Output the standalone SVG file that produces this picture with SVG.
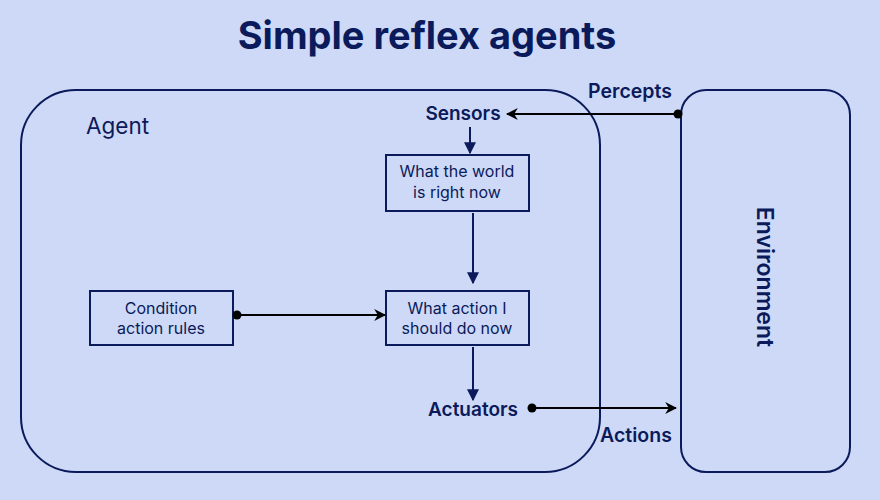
<svg xmlns="http://www.w3.org/2000/svg" width="880" height="500" viewBox="0 0 880 500">
<defs>
<style>
.t{font-family:"Inter","Liberation Sans",sans-serif;fill:#0b1a5a}
.box{fill:none;stroke:#0b1a5a;stroke-width:2}
.ln{stroke:#000;stroke-width:2;fill:none}
.nl{stroke:#0b1a5a;stroke-width:2;fill:none}
.s{font-size:16px;text-anchor:middle}
.b{font-size:19px;font-weight:600;text-anchor:middle}
</style>
<marker id="ah" viewBox="0 0 10 10" refX="9" refY="5" markerWidth="6" markerHeight="6" orient="auto-start-reverse" markerUnits="strokeWidth">
<path d="M0,0 L10,5 L0,10 L3,5 z" fill="#000"/>
</marker>
<marker id="ahn" viewBox="0 0 10 10" refX="9" refY="5" markerWidth="6" markerHeight="6" orient="auto" markerUnits="strokeWidth">
<path d="M0,0 L10,5 L0,10 z" fill="#0b1a5a"/>
</marker>
</defs>
<rect width="880" height="500" fill="#cdd9f6"/>
<text class="t" x="427" y="49" font-size="38" font-weight="700" text-anchor="middle">Simple reflex agents</text>
<g id="agent">
<rect class="box" x="21" y="90" width="579" height="382" rx="55"/>
<text class="t" x="86" y="134" font-size="22.5">Agent</text>
</g>
<g id="environment">
<rect class="box" x="681" y="90" width="169" height="382" rx="25"/>
<text class="t" transform="translate(757,277) rotate(90)" font-size="23" font-weight="600" text-anchor="middle">Environment</text>
</g>
<g id="sensors"><text class="t b" x="463" y="120">Sensors</text></g>
<g id="world">
<rect class="box" x="386" y="155" width="143" height="56"/>
<text class="t s" x="457" y="177">What the world</text>
<text class="t s" x="457" y="198">is right now</text>
</g>
<g id="action">
<rect class="box" x="386" y="291" width="143" height="54"/>
<text class="t s" x="457" y="314">What action I</text>
<text class="t s" x="457" y="334">should do now</text>
</g>
<g id="rules">
<rect class="box" x="90" y="291" width="143" height="54"/>
<text class="t s" x="161" y="314">Condition</text>
<text class="t s" x="161" y="334">action rules</text>
</g>
<g id="actuators"><text class="t b" x="473" y="416">Actuators</text></g>
<g id="labels">
<text class="t" x="630" y="98" font-size="19.5" font-weight="600" text-anchor="middle">Percepts</text>
<text class="t" x="636" y="442" font-size="19.5" font-weight="600" text-anchor="middle">Actions</text>
</g>
<g id="connectors">
<line class="ln" x1="678" y1="114" x2="507" y2="114" marker-end="url(#ah)"/>
<circle cx="678" cy="114" r="4.5" fill="#000"/>
<line class="nl" x1="470" y1="127" x2="470" y2="153" marker-end="url(#ahn)"/>
<line class="nl" x1="473" y1="213" x2="473" y2="283" marker-end="url(#ahn)"/>
<line class="ln" x1="237" y1="315" x2="385" y2="315" marker-end="url(#ah)"/>
<circle cx="237" cy="315" r="4.5" fill="#000"/>
<line class="nl" x1="473" y1="347" x2="473" y2="400" marker-end="url(#ahn)"/>
<line class="ln" x1="532" y1="408" x2="676" y2="408" marker-end="url(#ah)"/>
<circle cx="532" cy="408" r="4.5" fill="#000"/>
</g>
</svg>
